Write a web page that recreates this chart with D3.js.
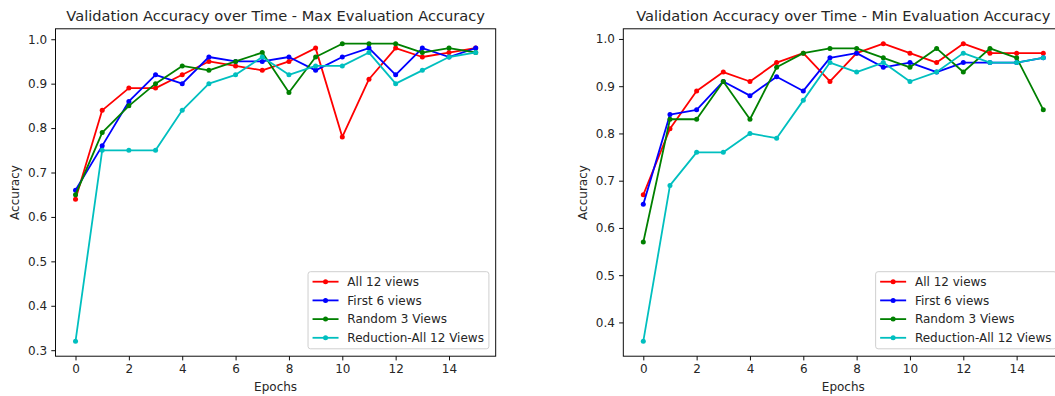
<!DOCTYPE html>
<html>
<head>
<meta charset="utf-8">
<script src="https://cdn.jsdelivr.net/npm/d3@7"></script>
<style>
  body { margin: 0; background: #ffffff; }
  svg { display: block; font-family: "DejaVu Sans", sans-serif; }
</style>
</head>
<body>
<svg id="fig" width="1055" height="396"></svg>
<script>
// ---- data -------------------------------------------------------------
const epochs = [0, 1, 2, 3, 4, 5, 6, 7, 8, 9, 10, 11, 12, 13, 14, 15];
const seriesNames = ["All 12 views", "First 6 views", "Random 3 Views", "Reduction-All 12 Views"];
const seriesColors = ["#ff0000", "#0000ff", "#008000", "#00bfbf"];

// Max evaluation accuracy per epoch
const maxAll12      = [0.64, 0.84, 0.89, 0.89, 0.92, 0.95, 0.94, 0.93, 0.95, 0.98, 0.78, 0.91, 0.98, 0.96, 0.97, 0.98];
const maxFirst6     = [0.66, 0.76, 0.86, 0.92, 0.90, 0.96, 0.95, 0.95, 0.96, 0.93, 0.96, 0.98, 0.92, 0.98, 0.96, 0.98];
const maxRandom3    = [0.65, 0.79, 0.85, 0.90, 0.94, 0.93, 0.95, 0.97, 0.88, 0.96, 0.99, 0.99, 0.99, 0.97, 0.98, 0.97];
const maxReduction  = [0.32, 0.75, 0.75, 0.75, 0.84, 0.90, 0.92, 0.96, 0.92, 0.94, 0.94, 0.97, 0.90, 0.93, 0.96, 0.97];

// Min evaluation accuracy per epoch
const minAll12      = [0.67, 0.81, 0.89, 0.93, 0.91, 0.95, 0.97, 0.91, 0.97, 0.99, 0.97, 0.95, 0.99, 0.97, 0.97, 0.97];
const minFirst6     = [0.65, 0.84, 0.85, 0.91, 0.88, 0.92, 0.89, 0.96, 0.97, 0.94, 0.95, 0.93, 0.95, 0.95, 0.95, 0.96];
const minRandom3    = [0.57, 0.83, 0.83, 0.91, 0.83, 0.94, 0.97, 0.98, 0.98, 0.96, 0.94, 0.98, 0.93, 0.98, 0.96, 0.85];
const minReduction  = [0.36, 0.69, 0.76, 0.76, 0.80, 0.79, 0.87, 0.95, 0.93, 0.95, 0.91, 0.93, 0.97, 0.95, 0.95, 0.96];

const xTicks = [0, 2, 4, 6, 8, 10, 12, 14];
const yTicksMax = [0.3, 0.4, 0.5, 0.6, 0.7, 0.8, 0.9, 1.0];
const yTicksMin = [0.4, 0.5, 0.6, 0.7, 0.8, 0.9, 1.0];

const titles = [
  "Validation Accuracy over Time - Max Evaluation Accuracy",
  "Validation Accuracy over Time - Min Evaluation Accuracy"
];
const xLabel = "Epochs";
const yLabel = "Accuracy";

// ---- layout -----------------------------------------------------------
const svg = d3.select("#fig");
const panels = [
  { left: 55.5, right: 495.7, top: 28.8, bottom: 356.2,
    series: [maxAll12, maxFirst6, maxRandom3, maxReduction], yTicks: yTicksMax, title: titles[0] },
  { left: 623.3, right: 1063.3, top: 28.8, bottom: 356.2,
    series: [minAll12, minFirst6, minRandom3, minReduction], yTicks: yTicksMin, title: titles[1] }
];

const tickFont = 12;
const titleFont = 14.6;
const textColor = "#262626";

// 5% margin on each side of the data range
function padded(lo, hi) {
  const m = (hi - lo) * 0.05;
  return [lo - m, hi + m];
}

panels.forEach(p => {
  const xDom = padded(d3.min(epochs), d3.max(epochs));
  const all = p.series.flat();
  const yDom = padded(d3.min(all), d3.max(all));
  const x = d3.scaleLinear().domain(xDom).range([p.left, p.right]);
  const y = d3.scaleLinear().domain(yDom).range([p.bottom, p.top]);

  const g = svg.append("g");

  // series lines + dot markers
  p.series.forEach((vals, i) => {
    const pts = epochs.map((e, k) => [e, vals[k]]);
    g.append("path")
      .datum(pts)
      .attr("fill", "none")
      .attr("stroke", seriesColors[i])
      .attr("stroke-width", 1.8)
      .attr("stroke-linejoin", "round")
      .attr("stroke-linecap", "square")
      .attr("d", d3.line().x(d => x(d[0])).y(d => y(d[1])));
    g.selectAll(null)
      .data(pts)
      .enter().append("circle")
      .attr("cx", d => x(d[0]))
      .attr("cy", d => y(d[1]))
      .attr("r", 2.5)
      .attr("fill", seriesColors[i]);
  });

  // axes
  const xAxis = g.append("g")
    .attr("transform", `translate(0,${p.bottom})`)
    .call(d3.axisBottom(x).tickValues(xTicks).tickFormat(d3.format("d")).tickSize(4.2).tickPadding(4.2));
  const yAxis = g.append("g")
    .attr("transform", `translate(${p.left},0)`)
    .call(d3.axisLeft(y).tickValues(p.yTicks).tickFormat(d3.format(".1f")).tickSize(4.2).tickPadding(4.2));
  [xAxis, yAxis].forEach(a => {
    a.select(".domain").remove();
    a.selectAll("line").attr("stroke", "#000").attr("stroke-width", 0.95);
    a.selectAll("text").attr("fill", textColor).attr("font-size", tickFont).attr("font-family", "DejaVu Sans");
  });

  // spines
  g.append("rect")
    .attr("x", p.left).attr("y", p.top)
    .attr("width", p.right - p.left).attr("height", p.bottom - p.top)
    .attr("fill", "none").attr("stroke", "#000").attr("stroke-width", 0.95);

  // title and axis labels
  const cx = (p.left + p.right) / 2;
  g.append("text").attr("x", cx).attr("y", 20.7)
    .attr("text-anchor", "middle").attr("font-size", titleFont).attr("fill", textColor)
    .text(p.title);
  g.append("text").attr("x", cx).attr("y", 391)
    .attr("text-anchor", "middle").attr("font-size", tickFont).attr("fill", textColor)
    .text(xLabel);
  const ly = (p.top + p.bottom) / 2;
  g.append("text")
    .attr("transform", `translate(${p.left - 36.5},${ly}) rotate(-90)`)
    .attr("text-anchor", "middle").attr("font-size", tickFont).attr("fill", textColor)
    .text(yLabel);

  // legend (lower right)
  const rowH = 18.7;
  const leg = g.append("g");
  const box = leg.append("rect")
    .attr("fill", "#ffffff").attr("fill-opacity", 0.8)
    .attr("stroke", "#cccccc").attr("stroke-width", 0.95)
    .attr("rx", 2.5);
  const texts = [];
  seriesNames.forEach((name, i) => {
    const row = leg.append("g").attr("transform", `translate(0,${i * rowH})`);
    row.append("line").attr("x1", 4.5).attr("x2", 30.5).attr("y1", 0).attr("y2", 0)
      .attr("stroke", seriesColors[i]).attr("stroke-width", 1.8);
    row.append("circle").attr("cx", 17.5).attr("cy", 0).attr("r", 2.5).attr("fill", seriesColors[i]);
    texts.push(row.append("text").attr("x", 39.3).attr("y", 0).attr("dy", "0.36em")
      .attr("font-size", tickFont).attr("fill", textColor).text(name));
  });
  const maxW = d3.max(texts, t => t.node().getComputedTextLength());
  const bw = 39.3 + maxW + 5;
  const bh = 10 + (seriesNames.length - 1) * rowH + 11;
  box.attr("x", 0).attr("y", -10).attr("width", bw).attr("height", bh);
  leg.attr("transform", `translate(${p.right - 6.8 - bw},${p.bottom - 7.4 - bh + 10})`);
});
</script>
</body>
</html>
